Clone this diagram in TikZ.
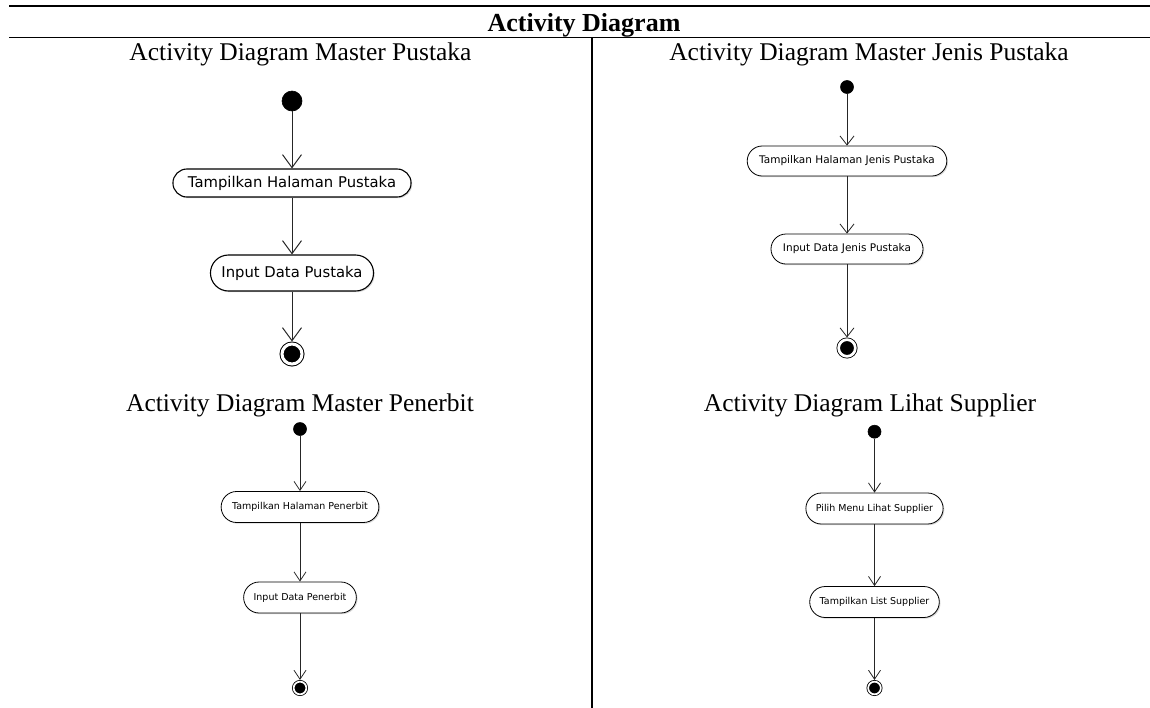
\documentclass[tikz,border=0pt]{standalone}
\usepackage{fontspec}
\setmainfont{Liberation Serif}
\newfontfamily\umlfont{DejaVu Sans}
\usetikzlibrary{arrows.meta}
\usetikzlibrary{shadows}
\tikzset{
  judul/.style={anchor=base,inner sep=0pt,font=\bfseries\fontsize{26}{30}\selectfont},
  subjudul/.style={anchor=base,inner sep=0pt,font=\fontsize{25.5}{30}\selectfont},
  aksi/.style={draw,rectangle,fill=white,inner xsep=11pt,inner ysep=0pt,line width=0.8pt,
    drop shadow={shadow xshift=1.2pt,shadow yshift=-1.2pt,opacity=0.3},
    font=\umlfont\fontsize{9.5}{11}\selectfont},
  mulai/.style={circle,draw,fill=black,inner sep=0pt,line width=0.6pt},
  selesai/.style={circle,draw,fill=black,double=white,inner sep=0pt,line width=0.8pt},
  alur/.style={->,line width=0.8pt,draw=black!85}
}
\begin{document}
\begin{tikzpicture}[x=1pt,y=-1pt,>={Straight Barb[length=9pt,width=12pt]}]
\useasboundingbox (0,0) rectangle (1150,707);
\draw [line width=1.8pt] (9,5.7)-- (1152,5.7);
\draw [line width=1.8pt] (9,37.5)-- (1152,37.5);
\draw [line width=1.5pt] (592,37.5)-- (592,709);
\node[judul] (jdlUtama) at (584,31.7) {Activity Diagram};
\node[subjudul] (jdlPustaka) at (300.5,60) {Activity Diagram Master Pustaka};
\node[subjudul] (jdlJenis) at (869,60) {Activity Diagram Master Jenis Pustaka};
\node[subjudul] (jdlPenerbit) at (300,411.7) {Activity Diagram Master Penerbit};
\node[subjudul] (jdlSupplier) at (870,411.7) {Activity Diagram Lihat Supplier};
\begin{scope}[>={Straight Barb[length=13pt,width=19pt]},aksi/.append style={line width=1.1pt,inner xsep=15pt,font=\umlfont\fontsize{14.8}{17}\selectfont}]
\node[mulai,minimum size=20pt] (pusMulai) at (292,101) {};
\node[aksi,minimum height=28pt,rounded corners=14pt] (pusTampil) at (292,183) {Tampilkan Halaman Pustaka};
\node[aksi,minimum height=36pt,rounded corners=18pt,inner xsep=11pt] (pusInput) at (292,273) {Input Data Pustaka};
\node[selesai,minimum size=20pt,double distance=3pt,line width=1pt,outer sep=2.5pt] (pusSelesai) at (292,354) {};
\draw [alur,line width=1pt] (pusMulai)-- (pusTampil);
\draw [alur,line width=1pt] (pusTampil)-- (pusInput);
\draw [alur,line width=1pt] (pusInput)-- (pusSelesai);
\end{scope}
\begin{scope}[>={Straight Barb[length=9pt,width=14pt]},aksi/.append style={inner xsep=12pt,font=\umlfont\fontsize{10.5}{12}\selectfont}]
\node[mulai,minimum size=13pt] (jnsMulai) at (847,87) {};
\node[aksi,minimum height=30pt,rounded corners=15pt] (jnsTampil) at (847,161) {Tampilkan Halaman Jenis Pustaka};
\node[aksi,minimum height=30pt,rounded corners=15pt] (jnsInput) at (847,249) {Input Data Jenis Pustaka};
\node[selesai,minimum size=16.7pt,double distance=2.7pt,outer sep=2.2pt] (jnsSelesai) at (847,348) {};
\draw [alur] (jnsMulai)-- (jnsTampil);
\draw [alur] (jnsTampil)-- (jnsInput);
\draw [alur] (jnsInput)-- (jnsSelesai);
\end{scope}
\node[mulai,minimum size=13pt] (pnbMulai) at (300,429) {};
\node[aksi,minimum height=31pt,rounded corners=15.5pt] (pnbTampil) at (300,507) {Tampilkan Halaman Penerbit};
\node[aksi,minimum height=31pt,rounded corners=15.5pt,inner xsep=10pt] (pnbInput) at (300,597.5) {Input Data Penerbit};
\node[selesai,minimum size=12.7pt,double distance=1.7pt,outer sep=1.7pt] (pnbSelesai) at (300,688) {};
\draw [alur] (pnbMulai)-- (pnbTampil);
\draw [alur] (pnbTampil)-- (pnbInput);
\draw [alur] (pnbInput)-- (pnbSelesai);
\node[mulai,minimum size=13pt] (supMulai) at (874.5,431.7) {};
\node[aksi,minimum height=31pt,rounded corners=15.5pt,inner xsep=10pt] (supPilih) at (874.5,508.5) {Pilih Menu Lihat Supplier};
\node[aksi,minimum height=31pt,rounded corners=15.5pt,inner xsep=10pt] (supTampil) at (874.5,602) {Tampilkan List Supplier};
\node[selesai,minimum size=12.7pt,double distance=1.7pt,outer sep=1.7pt] (supSelesai) at (874.5,688) {};
\draw [alur] (supMulai)-- (supPilih);
\draw [alur] (supPilih)-- (supTampil);
\draw [alur] (supTampil)-- (supSelesai);
\end{tikzpicture}
\end{document}
